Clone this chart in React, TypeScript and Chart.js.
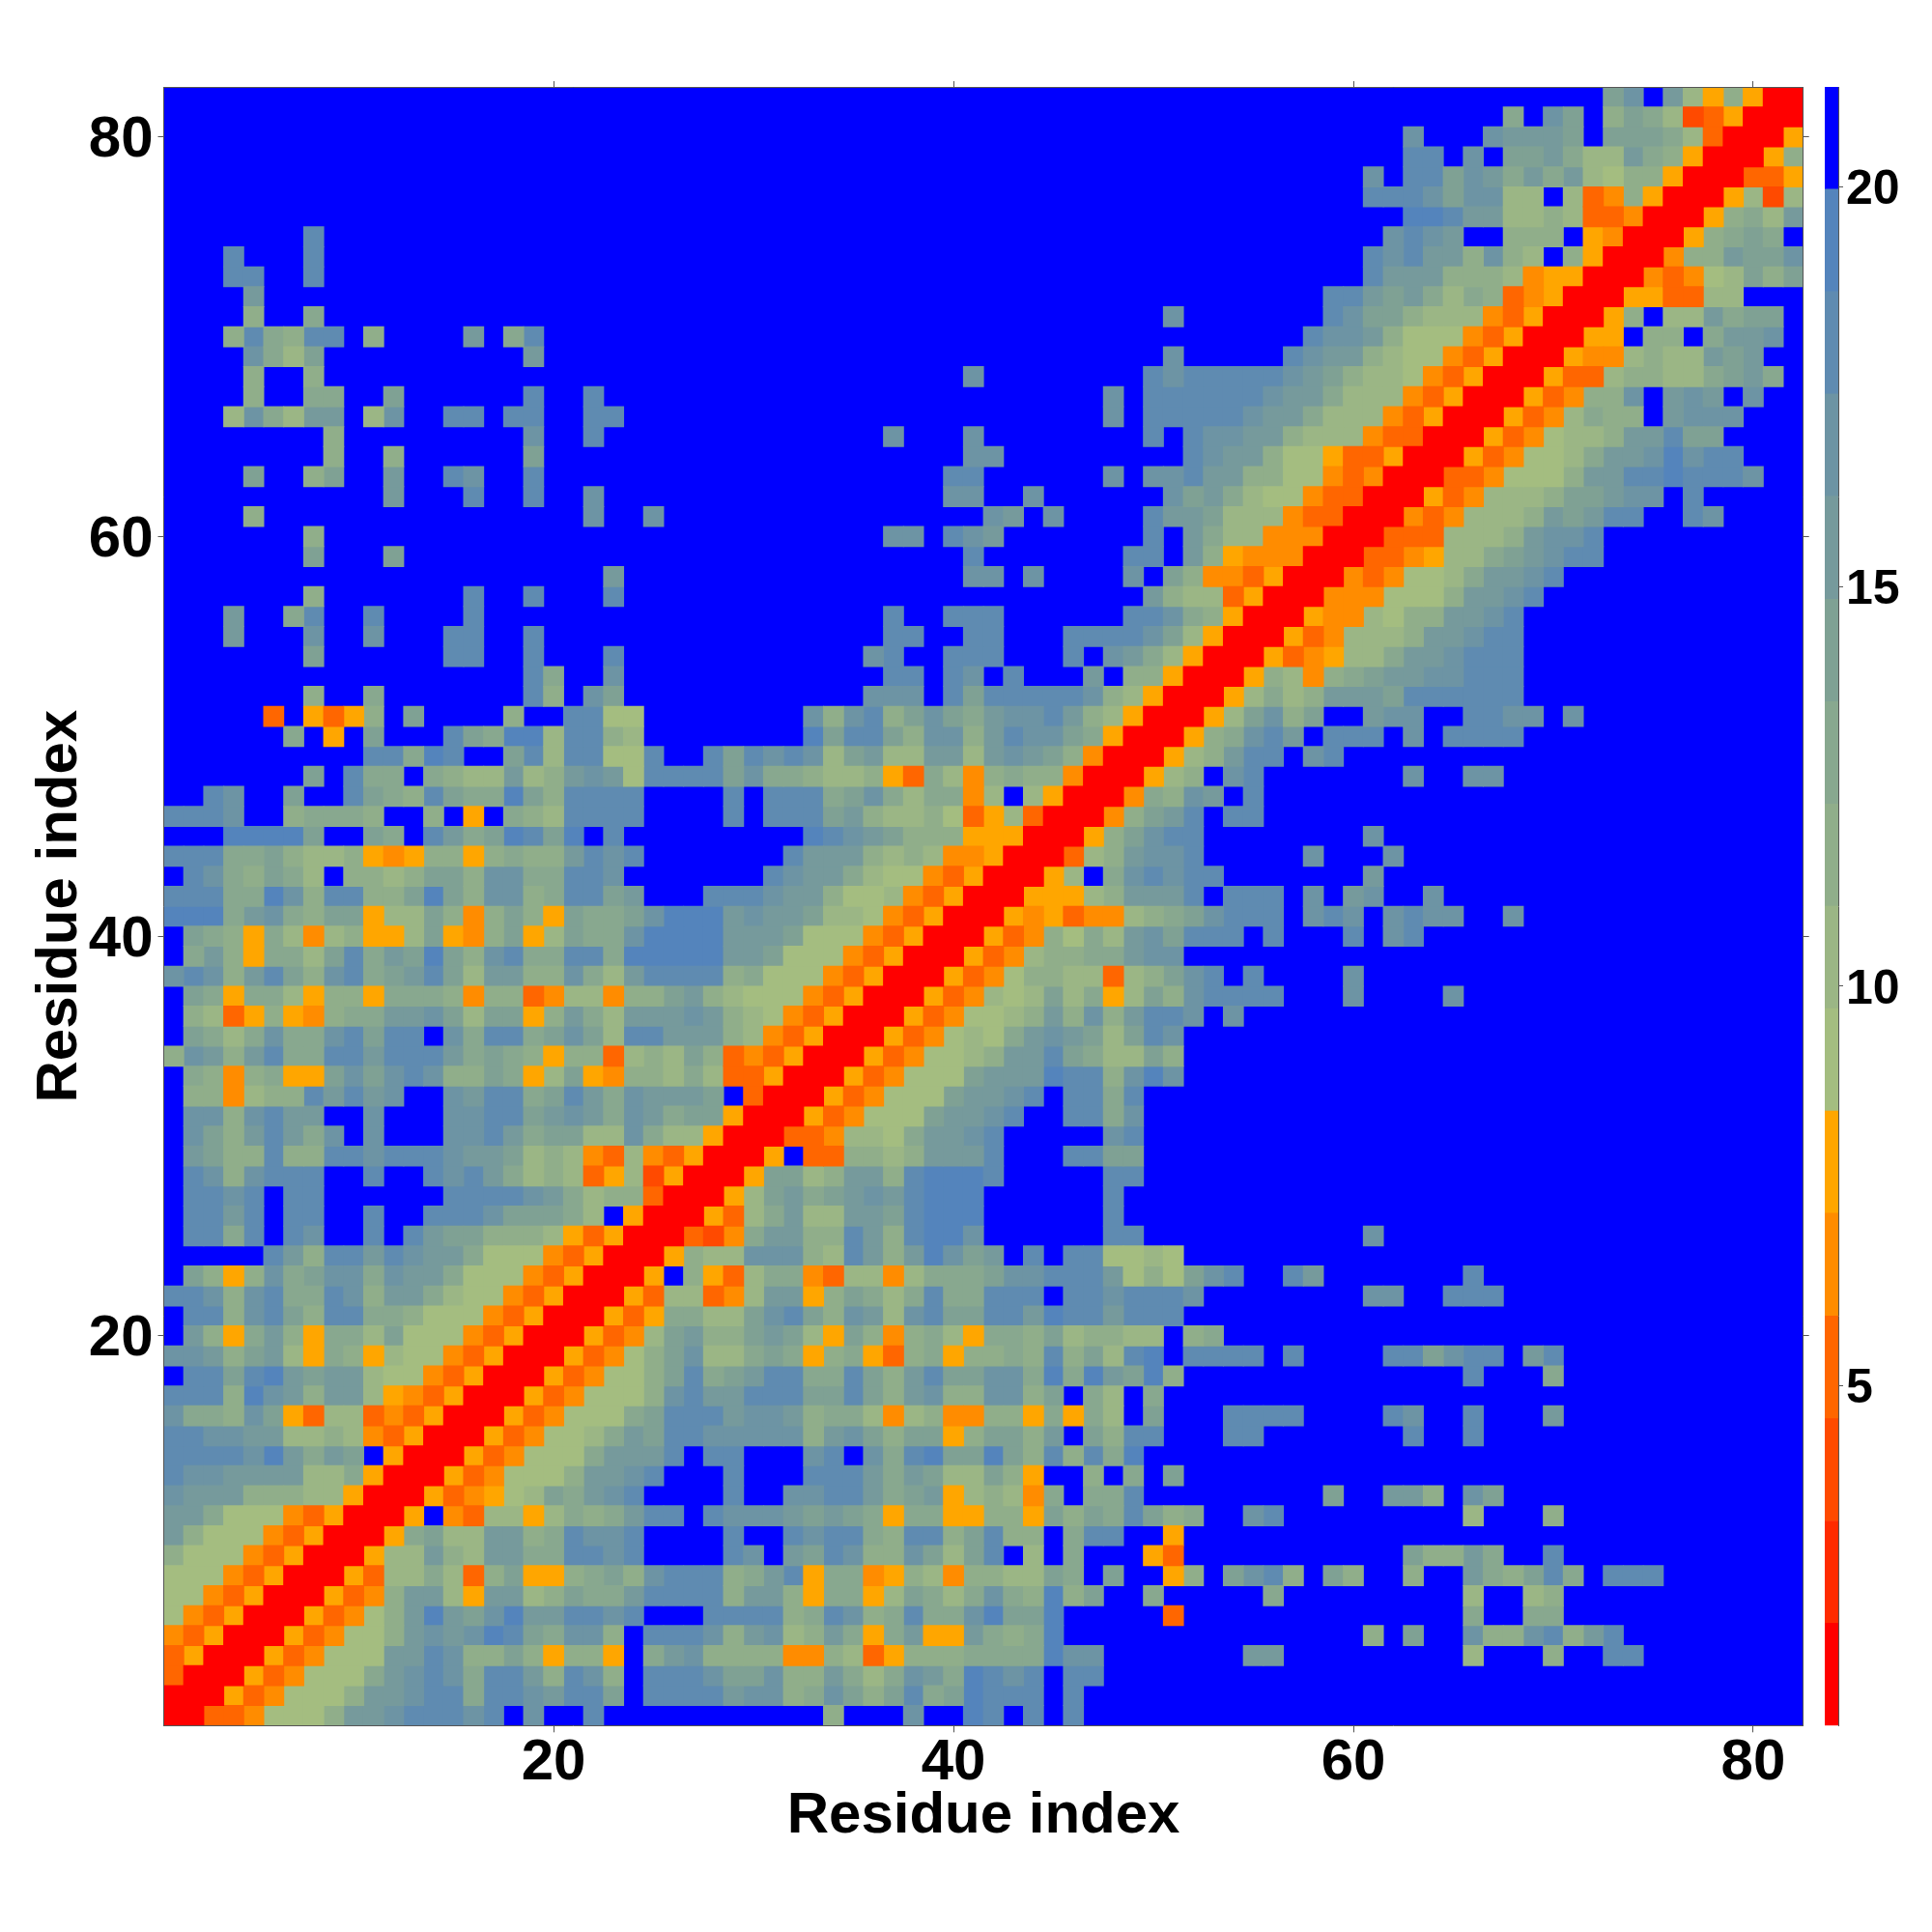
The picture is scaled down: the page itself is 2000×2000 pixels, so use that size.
import React, { useEffect, useRef } from "react";
import { Chart, registerables } from "chart.js";

Chart.register(...registerables);

// Upper-left triangle of the symmetric residue map, top row (residue 82) first.
// Each character is the colour-bar band of a cell; '.' is the top (blue) band.
// Spaces only group the columns for reading.
const MAP_TOP_ROWS: string[] = [
  ".......... ........... .......... ........... .......... .......... .......... ac.b758500",
  ".......... ........... .......... ........... .......... .......... .....9.ca. 8a9723500",
  ".......... ........... .......... ........... .......... .......... c...cbbba. aaa97300",
  ".......... ........... .......... ........... .......... .......... dd.c.aab97 7b98500",
  ".......... ........... .......... ........... .......... ........c. ddacb9b9b7 688500",
  ".......... ........... .......... ........... .......... ........dd dcacc77.73 48500",
  ".......... ........... .......... ........... .......... .......... eedbb77873 3400",
  ".......d.. ........... .......... ........... .......... .........c dcb..888.5 400",
  "...d...d.. ........... .......... ........... .......... ........dc dbb8c87.85 00",
  "...dd..d.. ........... .......... ........... .......... ........db bb88874550 0",
  "....b..... ........... .......... ........... .......... ......ddba b979834500",
  "....8..9.. ........... .......... ........... ........c. ......dcaa 877743500",
  "...8d98dd. 8....b.9d.. .......... ........... .......... .....dccb8 66643500",
  "....c97a.. ........b.. .......... ........... ........c. ....dcbb87 6643500",
  "....8..8.. ........... .......... .........c. .......dcd ddddcba877 643500",
  "....8..99. .a......d.. d......... ........... .....c.ddd dddcbb9777 43500",
  "...7c97bb. 7c..dd.dd.. dd........ ........... .....c.ddd ddcbb97774 3500",
  "........8. ........c.. d......... .....c...c. .......d.d ccbb877743 300",
  "........8. .8......a.. .......... .........cc .........d cbb8665335 00",
  "....a..8a. .b..dc..d.. .......... ........dd. .....c.ccd bb88664340 0",
  ".......... .b...d..d.. c......... ........cc. .c......ca b976643300",
  "....8..... ........... c..c...... ..........c b.c....dbb a77743300",
  ".......8.. ........... .......... .....cc.dcb .......d.b 97744400",
  ".......a.. .a......... .......... .........d. ......dd.b 8544400",
  ".......... ........... .b........ .........cc .c....c.a8 443500",
  ".......8.. .....d..d.. .d........ ........... .......b87 73500",
  "...b..9d.. d....d..... .......... .....d..ddd ......ddc9 8500",
  "...b...c.. c...dd..d.. .......... .....dd..dd ...ddddca7 500",
  ".......a.. ....dd..d.. .d........ ....cd..ddd ...d.cb975 00",
  ".......... ........d9. .c........ .....dd.dc. d...b.8850 0",
  ".......8.. 9.......d8. ca........ ....ccc.dad ddddc87500",
  ".....3.535 8.a....8..d d66....... .c8cd8aca9b ccdb87500",
  "......9.5. a...da9ee7d d87....... .eadda8cc8b dcca9500",
  ".......... dd9ed..ad7d d66d..dadc dc7ab77bb7b cba8400",
  ".......a.d 99.9877b78b cb6ddddac9 98778539748 988400",
  "..dc..a..d a98da99ea8d ddd....d.d dd9ac979947 .7500",
  "dddc..8999 8..8.5.987d ddd....d.d ddab8778635 7300",
  "...eeeea.. a9.db9aedae .d........ .edcba88855 500",
  "ddd99a8778 5458858988b dcd....... dbbb8787445 00",
  ".dc98a97.8 878aa8cc99d dc.......d cbb97664350 0",
  "ddd99ec8dd 88aea8cc89d dab...dddc bb866743500",
  "eee9bc98aa 577a848a85a 99aceeebcb ba77643500",
  ".a98597478 557a548a57a 99ceeeebbb a66643500",
  ".9b85997ad 9baea8cd99d d9eeeeebba 66643500",
  "cdc8bda8cd 9abda7bb88c 97bdddd896 6643500",
  ".a95997588 59998488347 7488ab8766 643500",
  ".873585489 9bbca7aa58b 97bbbcb876 43500",
  ".a979c99cd add.c9dd9ac a7ddbbb874 3500",
  "8cb8bd99dd bdddb9a9858 83787a8343 500",
  ".9848955ac acdc88a957a 5488797335 00",
  ".884788dbd bc..cbdd9ad b9cbbba.30 0",
  ".cc8cdbb.. c...ccddabc b9cb9aa500",
  ".ca8bdb9c. c...ccdb9aa 77c977500",
  ".ba88d88dd cdddcbba787 43743500",
  ".dc8cddd.. d..dcdb9787 3572500",
  ".ddcd.dd.. ....ddddcb9 788300",
  ".ddbd.dd.. d..dddcaaa9 7.500",
  ".dd9d.dc.. d.dbaa88875 3500",
  ".....db8dd bdcbb966643 500",
  ".a858c9acc 9cbb9666435 00",
  "ddc8cd99dc 8bb97664350 0",
  ".dd8cda8dd 99866643500",
  ".b859b8599 7a66643500",
  "ccb8ab7598 576643500",
  ".ddadebabb 76643500",
  "ddd8ecb8bb 7543500",
  "c998ca5377 343500",
  "ddccbb7787 43500",
  "ddddceb9ba .500",
  "dccbbbb779 500",
  "cbbb888775 00",
  "bb96664350 0",
  "b866643500",
  "866643500",
  "66643500",
  "6643500",
  "643500",
  "43500",
  "3500",
  "300",
  "00",
  "0",
];

const RESIDUE_COUNT = 82;
const AXIS_TICKS = [20, 40, 60, 80];
const COLORBAR_TICKS = [5, 10, 15, 20];
const AXIS_TITLE = "Residue index";

const BAND_KEYS = "0123456789abcde.";
const BAND_COLORS = [
  "#ff0000", "#ff2b00", "#ff4a00", "#ff6600", "#ff8c00", "#ffa600",
  "#a4bd80", "#9bb685", "#90ae8a", "#88a88f", "#7fa194", "#769a9c",
  "#6d94a4", "#5f8bb1", "#5484bc", "#0000ff",
];
const BAND_EDGES = [
  0.75, 2.03, 3.31, 4.59, 5.875, 7.16, 8.44, 9.72, 11, 12.28, 13.56, 14.84,
  16.13, 17.41, 18.69, 19.97, 21.25,
];

const FONT = '"Liberation Sans", Arial, sans-serif';
const AXIS_COLOR = "#555555";

const cleanRows = MAP_TOP_ROWS.map((r) => r.replace(/ /g, ""));

function bandAt(x: number, y: number): number {
  // The map is symmetric, so a cell right of the diagonal reads its mirror.
  const col = Math.min(x, y) - 1;
  const row = RESIDUE_COUNT - Math.max(x, y);
  const ch = cleanRows[row]?.[col] ?? ".";
  return BAND_KEYS.indexOf(ch);
}

function fixedSize(size: number) {
  return (scale: any) => {
    if (scale.isHorizontal()) scale.height = size;
    else scale.width = size;
  };
}

export default function App() {
  const mapRef = useRef<HTMLCanvasElement>(null);
  const barRef = useRef<HTMLCanvasElement>(null);

  useEffect(() => {
    const labels = Array.from({ length: RESIDUE_COUNT }, (_, i) => String(i + 1));
    const buckets: { x: string; y: [number, number] }[][] = BAND_COLORS.map(() => []);
    for (let y = 1; y <= RESIDUE_COUNT; y++) {
      for (let x = 1; x <= RESIDUE_COUNT; x++) {
        buckets[bandAt(x, y)].push({ x: String(x), y: [y - 0.5, y + 0.5] });
      }
    }
    const tickFont = { family: FONT, size: 60, weight: "bold" as const };
    const sideTicks = (scale: any) => {
      scale.ticks = AXIS_TICKS.map((value) => ({ value }));
    };

    const map = new Chart(mapRef.current!, {
      type: "bar",
      data: {
        labels,
        datasets: buckets.map((data, i) => ({
          data: data as any,
          backgroundColor: BAND_COLORS[i],
          borderWidth: 0,
          inflateAmount: 0.5,
          categoryPercentage: 1,
          barPercentage: 1,
          grouped: false,
          xAxisID: "x",
          yAxisID: "y",
        })),
      },
      options: {
        responsive: false,
        animation: false,
        devicePixelRatio: 1,
        events: [],
        layout: { padding: 0 },
        plugins: { legend: { display: false }, tooltip: { enabled: false } },
        scales: {
          x: {
            type: "category",
            position: "bottom",
            afterFit: fixedSize(213.7),
            afterBuildTicks: (scale: any) => {
              scale.ticks = AXIS_TICKS.map((v) => ({ value: v - 1 }));
            },
            grid: { offset: false, drawOnChartArea: false, tickLength: 7, tickColor: AXIS_COLOR },
            border: { color: AXIS_COLOR, z: 2 },
            ticks: { autoSkip: false, maxRotation: 0, minRotation: 0, color: "#000", font: tickFont, padding: -4 },
            title: {
              display: true,
              text: AXIS_TITLE,
              color: "#000",
              font: tickFont,
              padding: { top: 84, bottom: 84 },
            },
          },
          y: {
            type: "linear",
            position: "left",
            min: 0.5,
            max: 82.5,
            afterFit: fixedSize(169.5),
            afterBuildTicks: sideTicks,
            grid: { drawOnChartArea: false, tickLength: 6, tickColor: AXIS_COLOR },
            border: { color: AXIS_COLOR, z: 2 },
            ticks: { color: "#000", font: tickFont, padding: 5, labelOffset: 4 },
            title: {
              display: true,
              text: AXIS_TITLE,
              color: "#000",
              font: tickFont,
              padding: { top: 26, bottom: 26 },
            },
          },
          xTop: {
            type: "linear",
            position: "top",
            min: 0.5,
            max: 82.5,
            offset: false,
            afterFit: fixedSize(90),
            afterBuildTicks: sideTicks,
            grid: { offset: false, drawOnChartArea: false, tickLength: 6, tickColor: AXIS_COLOR },
            border: { color: AXIS_COLOR, z: 2 },
            ticks: { display: false },
          },
          yRight: {
            type: "linear",
            position: "right",
            min: 0.5,
            max: 82.5,
            afterFit: fixedSize(133.3),
            afterBuildTicks: sideTicks,
            grid: { drawOnChartArea: false, tickLength: 6, tickColor: AXIS_COLOR },
            border: { color: AXIS_COLOR, z: 2 },
            ticks: { display: false },
          },
        },
      },
    });

    const bar = new Chart(barRef.current!, {
      type: "bar",
      data: {
        labels: ["d"],
        datasets: BAND_COLORS.map((color, i) => ({
          data: [[BAND_EDGES[i], BAND_EDGES[i + 1]]] as any,
          backgroundColor: color,
          borderWidth: 0,
          categoryPercentage: 1,
          barPercentage: 1,
          grouped: false,
        })),
      },
      options: {
        responsive: false,
        animation: false,
        devicePixelRatio: 1,
        events: [],
        layout: { padding: { left: 9, top: 90, bottom: 213.7, right: 0 } },
        plugins: { legend: { display: false }, tooltip: { enabled: false } },
        scales: {
          x: {
            type: "category",
            display: true,
            afterFit: fixedSize(0),
            grid: { display: false },
            border: { display: false },
            ticks: { display: false },
          },
          y: {
            type: "linear",
            position: "right",
            min: BAND_EDGES[0],
            max: BAND_EDGES[BAND_EDGES.length - 1],
            afterFit: fixedSize(97),
            afterBuildTicks: (scale: any) => {
              scale.ticks = COLORBAR_TICKS.map((value) => ({ value }));
            },
            grid: { drawOnChartArea: false, tickLength: 5, tickColor: AXIS_COLOR },
            border: { color: AXIS_COLOR, z: 2 },
            ticks: {
              color: "#000",
              padding: 3,
              labelOffset: 4,
              font: { family: FONT, size: 50, weight: "bold" },
            },
          },
        },
      },
    });

    return () => {
      map.destroy();
      bar.destroy();
    };
  }, []);

  return (
    <div style={{ position: "absolute", left: 0, top: 0, width: 2000, height: 2000, background: "#fff" }}>
      <canvas ref={mapRef} width={2000} height={2000} style={{ position: "absolute", left: 0, top: 0 }} />
      <canvas ref={barRef} width={120} height={2000} style={{ position: "absolute", left: 1880, top: 0 }} />
    </div>
  );
}
